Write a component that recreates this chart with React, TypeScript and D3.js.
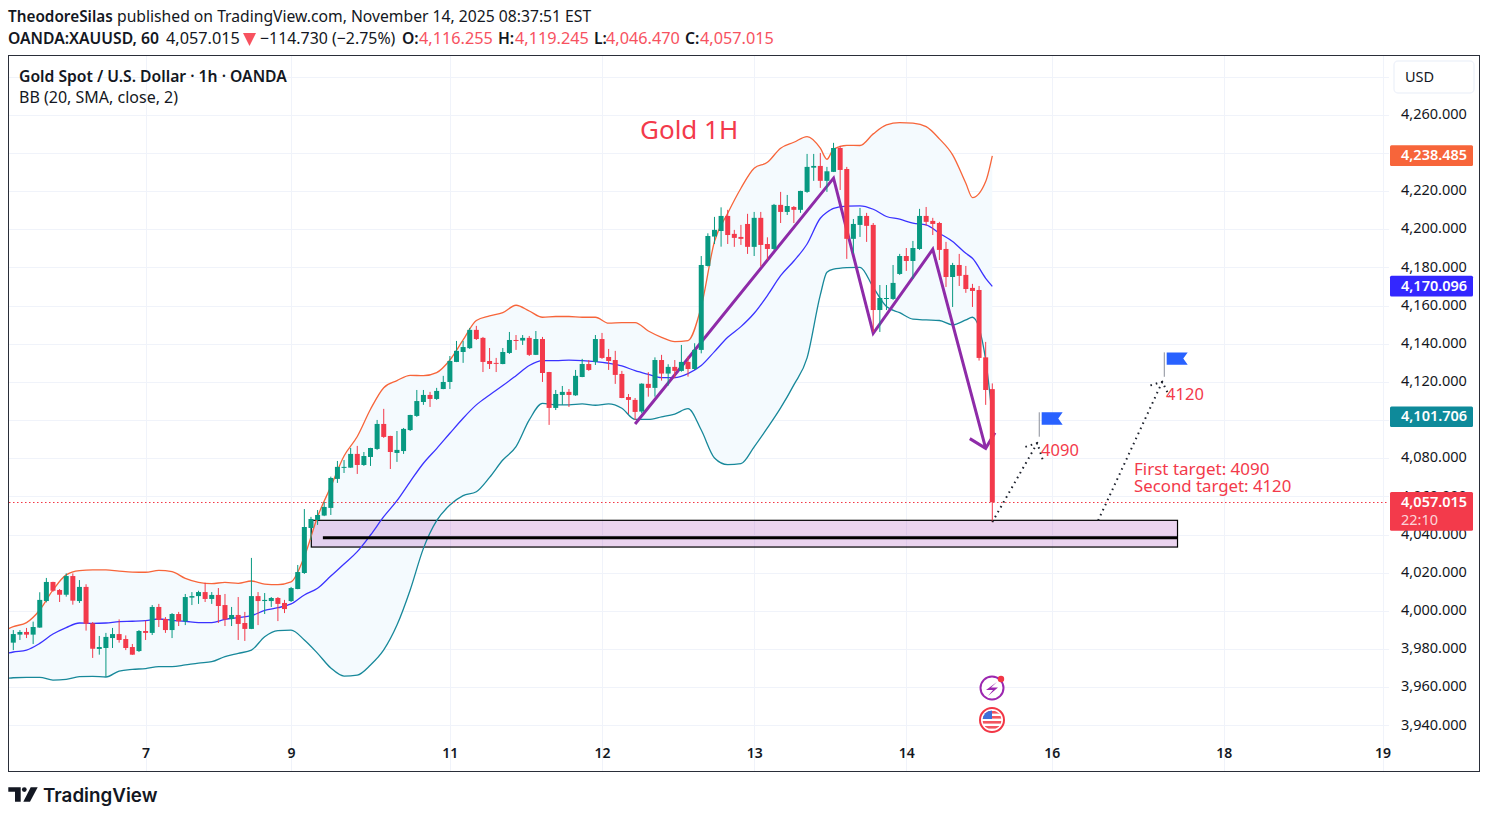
import * as d3 from "d3";
import { useRef, useEffect } from "react";

// one entry per hourly bar
const opens = [
  3983.4,3987.6,3989.0,3987.6,3991.3,4005.2,4015.2,4011.0,4008.5,4018.3,
  4005.2,4012.6,3993.5,3980.1,3980.6,3985.8,3987.9,3985.3,3981.1,3979.0,
  3989.5,3988.5,4002.1,3995.8,3990.0,3998.4,3994.6,4007.0,4007.8,4009.9,
  4006.3,4008.4,4003.1,3995.8,3997.9,3993.7,3990.6,4007.8,4005.2,4005.2,
  4006.8,4004.2,4005.2,4011.5,4019.9,4043.5,4047.7,4050.0,4054.0,4069.2,
  4075.1,4075.1,4082.3,4076.5,4080.7,4084.9,4098.0,4091.7,4082.8,4083.8,
  4094.8,4102.2,4109.5,4113.2,4111.1,4116.3,4120.0,4130.5,4135.7,4137.7,
  4147.3,4143.1,4131.0,4130.0,4129.4,4135.2,4142.0,4141.7,4143.1,4134.2,
  4142.5,4125.2,4106.4,4113.2,4114.8,4113.0,4122.6,4129.4,4130.5,4142.5,
  4133.1,4131.5,4124.2,4112.1,4110.6,4104.5,4119.0,4116.9,4131.5,4124.4,
  4127.9,4125.8,4130.5,4126.8,4136.8,4180.8,4196.2,4199.1,4207.0,4197.6,
  4196.0,4202.8,4190.8,4206.0,4192.3,4189.7,4212.8,4209.1,4211.7,4210.2,
  4219.6,4232.3,4233.2,4225.4,4230.1,4242.6,4231.6,4195.0,4202.3,4207.0,
  4202.3,4157.7,4163.5,4163.5,4176.6,4186.0,4183.4,4189.7,4207.0,4204.4,
  4203.3,4189.7,4175.0,4181.3,4176.1,4169.3,4168.2,4132.9,4116.255,
];
const highs = [
  3990.0,3990.0,3991.1,3994.4,4009.8,4017.3,4015.3,4011.5,4019.7,4019.7,
  4016.2,4014.0,3994.2,3986.9,3988.5,3991.1,3995.6,3987.2,3982.7,3990.0,
  3994.9,4003.1,4003.7,3996.8,3998.9,3999.5,4008.9,4009.9,4010.6,4014.8,
  4009.9,4012.0,4008.9,4002.1,4007.3,3999.5,4027.8,4009.9,4009.4,4007.3,
  4007.3,4005.8,4012.6,4024.1,4053.4,4049.3,4052.9,4057.1,4070.4,4078.6,
  4079.1,4085.4,4086.5,4083.3,4085.5,4100.1,4105.9,4091.8,4094.3,4095.9,
  4102.8,4115.8,4115.8,4114.8,4116.9,4123.2,4133.6,4141.5,4141.5,4148.3,
  4149.4,4143.6,4137.8,4132.6,4137.8,4146.2,4144.6,4144.6,4144.1,4146.7,
  4143.6,4125.3,4115.8,4117.9,4116.3,4126.3,4132.1,4131.5,4144.6,4145.7,
  4137.3,4136.3,4125.8,4113.7,4111.6,4119.3,4125.1,4132.9,4134.2,4129.3,
  4131.5,4139.4,4133.3,4140.3,4186.0,4197.9,4206.5,4211.5,4210.2,4199.7,
  4202.3,4208.1,4209.1,4209.1,4195.8,4213.3,4219.6,4218.0,4212.2,4220.2,
  4239.5,4239.5,4240.0,4232.7,4245.3,4243.7,4232.7,4205.4,4211.2,4208.6,
  4203.3,4170.8,4170.8,4181.3,4187.1,4190.2,4193.9,4210.7,4211.7,4206.0,
  4203.9,4193.4,4182.4,4187.1,4180.8,4171.4,4170.3,4141.0,4119.245,
];
const lows = [
  3979.5,3984.8,3985.8,3982.7,3991.2,4004.5,4010.1,4004.7,4007.5,4003.3,
  4004.2,3989.7,3975.4,3977.1,3965.6,3980.6,3983.4,3979.5,3977.0,3978.5,
  3984.8,3987.4,3991.6,3988.5,3985.8,3992.1,3992.6,4003.1,4003.7,4004.7,
  4003.7,3993.7,3992.1,3992.1,3984.8,3984.3,3990.5,3992.6,3998.4,4002.1,
  3994.7,3998.9,4004.7,4011.4,4019.4,4037.2,4045.1,4049.7,4050.3,4067.1,
  4072.3,4075.0,4071.8,4076.0,4076.0,4084.4,4090.7,4074.4,4078.1,4082.3,
  4094.3,4101.7,4108.0,4106.9,4110.6,4116.2,4116.3,4130.4,4130.0,4137.3,
  4142.0,4125.2,4126.8,4125.2,4129.3,4134.7,4136.8,4139.4,4133.6,4134.1,
  4120.0,4097.5,4105.3,4108.0,4106.9,4112.7,4122.5,4125.8,4128.9,4132.1,
  4126.3,4119.0,4111.5,4103.2,4100.1,4103.6,4112.3,4112.3,4120.7,4118.1,
  4121.9,4125.4,4122.8,4126.3,4135.0,4180.5,4192.3,4190.9,4192.3,4190.8,
  4191.8,4187.1,4186.0,4180.5,4183.9,4189.2,4203.3,4207.5,4203.3,4208.6,
  4219.1,4225.4,4221.7,4219.6,4230.0,4220.6,4184.5,4187.4,4196.0,4193.4,
  4146.2,4146.2,4157.7,4163.0,4176.1,4178.2,4174.0,4189.2,4201.8,4197.0,
  4183.9,4169.8,4159.3,4170.3,4166.7,4159.3,4131.2,4108.0,4046.47,
];
const closes = [
  3987.9,3989.0,3987.6,3991.6,4005.8,4015.2,4010.6,4008.5,4018.3,4005.4,
  4012.6,3993.3,3980.2,3981.1,3986.4,3987.9,3984.8,3980.6,3977.1,3989.5,
  3988.5,4002.1,3995.3,3990.0,3998.4,3994.6,4007.3,4007.8,4009.9,4006.3,
  4008.4,4002.6,3995.6,3997.9,3993.2,3990.6,4007.8,4005.2,4005.8,4006.8,
  4003.7,4001.0,4012.0,4020.4,4044.0,4048.2,4050.3,4054.5,4069.7,4075.5,
  4075.5,4082.3,4076.5,4081.2,4085.4,4098.0,4091.2,4083.3,4084.4,4095.4,
  4102.7,4110.0,4113.2,4111.1,4115.3,4120.0,4131.0,4136.3,4138.3,4147.3,
  4142.5,4130.5,4129.4,4129.6,4135.7,4142.0,4141.7,4143.1,4134.2,4142.5,
  4124.7,4106.4,4113.7,4114.8,4113.2,4123.2,4129.4,4126.3,4142.5,4132.6,
  4131.0,4123.7,4111.6,4110.6,4104.3,4119.1,4116.9,4131.5,4124.4,4127.9,
  4125.8,4130.5,4126.8,4136.8,4181.3,4196.5,4199.7,4207.0,4197.0,4195.5,
  4195.0,4190.8,4206.0,4191.8,4189.7,4212.8,4209.1,4212.2,4210.2,4220.1,
  4232.7,4233.2,4225.4,4230.4,4242.6,4231.1,4195.0,4202.8,4207.0,4201.8,
  4157.7,4164.0,4164.0,4171.9,4186.0,4183.4,4190.2,4207.0,4203.9,4202.8,
  4189.2,4175.0,4181.3,4175.6,4168.7,4167.7,4132.6,4115.8,4057.015,
];

// Bollinger bands, read at these bars
const bandBars = [
  -2,0,2,4,6,8,10,12,14,16,18,20,22,24,26,28,30,32,34,36,38,40,42,44,46,
  48,50,52,54,56,58,60,62,64,66,68,70,72,74,76,78,80,82,84,86,88,90,92,94,
  96,98,100,102,104,106,108,110,112,114,116,118,120,122,123,124,126,128,130,
  132,134,136,138,140,142,144,145,147,148,
];
const bbUpper = [
  3988.6,3991.8,3993.9,4000.5,4011.0,4018.9,4021.1,4021.5,4021.5,4020.9,4020.4,4020.3,4021.3,4020.6,4017.1,4015.0,4014.3,4015.0,4014.5,4015.7,4014.1,4013.8,4015.2,4028.5,4049.4,
  4065.2,4081.2,4091.4,4105.7,4117.0,4120.7,4123.5,4123.3,4124.9,4131.5,4142.0,4152.2,4154.6,4156.3,4160.2,4157.2,4153.9,4154.3,4154.3,4153.9,4153.9,4150.8,4151.1,4151.1,
  4146.7,4143.4,4141.1,4141.7,4159.5,4193.6,4208.4,4221.5,4232.0,4235.1,4242.5,4245.6,4248.6,4242.5,4236.7,4242.0,4244.0,4243.9,4250.0,
  4254.7,4255.9,4255.6,4253.8,4247.4,4239.0,4224.1,4216.6,4225.0,4238.485,
];
const bbBasis = [
  3976.9,3978.5,3979.5,3983.0,3987.9,3991.3,3993.7,3993.5,3993.7,3994.4,3994.6,3994.9,3995.8,3995.1,3994.6,3993.9,3993.9,3995.6,3996.5,3997.5,4000.3,4001.7,4003.7,4008.4,4011.9,
  4018.3,4024.6,4031.1,4039.8,4049.4,4057.8,4067.8,4077.4,4085.1,4093.1,4101.0,4108.0,4113.2,4118.1,4123.3,4128.6,4131.2,4131.2,4131.4,4131.2,4130.7,4129.8,4128.4,4125.9,
  4124.0,4122.3,4122.3,4124.4,4128.6,4135.9,4143.4,4149.0,4156.0,4165.3,4175.7,4183.4,4192.3,4205.8,4208.9,4211.0,4212.1,4212.3,4210.5,
  4206.7,4205.3,4203.2,4202.3,4197.9,4193.6,4187.4,4184.8,4174.3,4170.096,
];
const bbLower = [
  3964.2,3965.0,3965.2,3965.2,3963.8,3964.2,3965.6,3965.7,3965.4,3968.5,3969.4,3969.8,3970.8,3970.8,3971.7,3972.7,3973.4,3976.1,3977.8,3979.5,3986.5,3989.7,3990.0,3984.8,3977.8,
  3970.1,3965.9,3966.4,3971.7,3979.6,3992.6,4011.0,4032.8,4047.3,4055.5,4060.4,4062.5,4070.0,4079.1,4086.1,4100.1,4108.8,4108.0,4108.0,4108.5,4107.8,4108.5,4106.2,4100.4,
  4100.4,4101.7,4103.2,4106.0,4094.8,4080.2,4076.7,4077.2,4086.0,4095.9,4106.4,4118.5,4132.6,4165.6,4177.5,4179.1,4179.9,4180.1,4169.6,
  4159.5,4156.3,4152.9,4152.5,4152.2,4149.9,4152.5,4153.9,4131.5,4101.706,
];

// axis
const priceTicks = [3940,3960,3980,4000,4020,4040,4060,4080,4100,4120,4140,4160,4180,4200,4220,4240,4260,4280];
const priceLabels = [3940,3960,3980,4000,4020,4040,4060,4080,4120,4140,4160,4180,4200,4220,4260];
const dayLabels = ["7","9","11","12","13","14","16","18","19"];
const dayBars = [20,42,66,89,112,135,157,183,207];

// drawings on the chart, as [bar, price]
const zigzag: [number, number][] = [[94,4098.0],[124,4226.8],[130,4145.5],[139,4189.5],[147,4085.2]];
const zigzagHead: [number, number][] = [[144.6,4090.3],[147,4085.2],[148.4,4093.4]];
const dotted1: [number, number][] = [[148,4046.6],[154.8,4088.0]];
const dotted1Head: [number, number][] = [[153,4086.0],[154.8,4088.0],[155.6,4079.4]];
const dotted2: [number, number][] = [[164,4047.4],[173.7,4120.1]];
const dotted2Head: [number, number][] = [[171.9,4118.2],[173.7,4120.1],[174.8,4112.2]];
const zone = { barFrom: 45.05, barTo: 176, top: 4047.5, bottom: 4033.5, line: 4038.4, lineFrom: 46.8 };
const flags: { bar: number; price: number; label: string }[] = [
  { bar: 155.1, price: 4104.1, label: "4090" },
  { bar: 174, price: 4135.5, label: "4120" },
];

const lastPrice = 4057.015;
const upColor = "#089981";
const downColor = "#f33a4b";
const sans = "'Noto Sans', sans-serif";

function App() {
  const svgRef = useRef<SVGSVGElement | null>(null);

  useEffect(() => {
    const svg = d3.select(svgRef.current);
    svg.selectAll("*").remove();

    const x = d3.scaleLinear().domain([0, 148]).range([13.3, 992.3]);
    const y = d3.scaleLinear().domain([3960, 4080]).range([687.3, 458.3]);
    const paneR = 1389;

    svg.append("defs").append("clipPath").attr("id", "pane")
      .append("rect").attr("x", 9).attr("y", 56).attr("width", paneR - 9).attr("height", 715);

    // grid
    svg.append("g").attr("stroke", "#f0f3fa")
      .selectAll("line").data(priceTicks).join("line")
      .attr("x1", 9).attr("x2", paneR)
      .attr("y1", (d) => Math.round(y(d)) + 0.5).attr("y2", (d) => Math.round(y(d)) + 0.5);
    svg.append("g").attr("stroke", "#f0f3fa")
      .selectAll("line").data(dayBars).join("line")
      .attr("x1", (d) => Math.round(x(d)) + 0.5).attr("x2", (d) => Math.round(x(d)) + 0.5)
      .attr("y1", 56).attr("y2", 771);

    const pane = svg.append("g").attr("clip-path", "url(#pane)");
    const bandIdx = d3.range(bandBars.length);

    // band fill
    pane.append("path")
      .attr("fill", "#f4fafe")
      .attr("d", d3.area<number>()
        .curve(d3.curveMonotoneX)
        .x((i) => x(bandBars[i]))
        .y0((i) => y(bbLower[i]))
        .y1((i) => y(bbUpper[i]))(bandIdx));

    // support zone
    pane.append("rect")
      .attr("x", x(zone.barFrom)).attr("width", x(zone.barTo) - x(zone.barFrom))
      .attr("y", y(zone.top)).attr("height", y(zone.bottom) - y(zone.top))
      .attr("fill", "#9c27b0").attr("fill-opacity", 0.2)
      .attr("stroke", "#000").attr("stroke-width", 1.2);

    // band lines
    const bandLine = (values: number[]) =>
      d3.line<number>().curve(d3.curveMonotoneX).x((i) => x(bandBars[i])).y((i) => y(values[i]))(bandIdx);
    const bands: [number[], string][] = [[bbUpper, "#f7653a"], [bbBasis, "#3a32ff"], [bbLower, "#17889a"]];
    bands.forEach(([values, color]) => {
      pane.append("path").attr("fill", "none").attr("stroke", color).attr("stroke-width", 1.3)
        .attr("d", bandLine(values));
    });

    const pointLine = d3.line<[number, number]>().x((d) => x(d[0])).y((d) => y(d[1]));

    // zone centre line
    pane.append("path")
      .attr("d", pointLine([[zone.lineFrom, zone.line], [zone.barTo, zone.line]]))
      .attr("stroke", "#000").attr("stroke-width", 3).attr("fill", "none");

    // purple zigzag
    [zigzag, zigzagHead].forEach((pts) => {
      pane.append("path").attr("d", pointLine(pts)).attr("fill", "none")
        .attr("stroke", "#8e2ba8").attr("stroke-width", 3).attr("stroke-linejoin", "miter");
    });

    // last price line
    pane.append("line")
      .attr("x1", 9).attr("x2", paneR)
      .attr("y1", Math.floor(y(lastPrice)) + 0.5).attr("y2", Math.floor(y(lastPrice)) + 0.5)
      .attr("stroke", "#f23645").attr("stroke-dasharray", "1.5 2.5");

    // candles
    const candles = pane.append("g").selectAll("g").data(d3.range(opens.length)).join("g");
    candles.append("line")
      .attr("x1", (i) => x(i)).attr("x2", (i) => x(i))
      .attr("y1", (i) => y(highs[i])).attr("y2", (i) => y(lows[i]))
      .attr("stroke", (i) => (closes[i] >= opens[i] ? upColor : downColor)).attr("stroke-width", 1);
    candles.append("rect")
      .attr("x", (i) => x(i) - 2.5).attr("width", 5)
      .attr("y", (i) => y(Math.max(opens[i], closes[i])))
      .attr("height", (i) => Math.max(1, Math.abs(y(opens[i]) - y(closes[i]))))
      .attr("fill", (i) => (closes[i] >= opens[i] ? upColor : downColor));

    // dotted arrows
    [dotted1, dotted1Head, dotted2, dotted2Head].forEach((pts) => {
      pane.append("path").attr("d", pointLine(pts)).attr("fill", "none")
        .attr("stroke", "#1e222d").attr("stroke-width", 2).attr("stroke-dasharray", "1.6 4");
    });

    // flags
    flags.forEach((f) => {
      const fx = x(f.bar);
      const fy = y(f.price);
      svg.append("line").attr("x1", fx).attr("x2", fx).attr("y1", fy).attr("y2", fy + 24.4)
        .attr("stroke", "#8a8e99").attr("stroke-width", 1);
      svg.append("path")
        .attr("d", `M${fx + 2.4},${fy}H${fx + 23.4}L${fx + 19},${fy + 6.2}L${fx + 23.4},${fy + 12.4}H${fx + 2.4}Z`)
        .attr("fill", "#2962ff");
      svg.append("text").attr("x", fx + 1.8).attr("y", fy + (f.label === "4090" ? 43.5 : 47.5))
        .attr("font-family", sans).attr("font-size", 16.5).attr("fill", downColor).text(f.label);
    });

    // chart texts
    svg.append("text").attr("x", 640).attr("y", 139).attr("font-family", sans).attr("font-size", 26)
      .attr("fill", downColor).text("Gold 1H");
    svg.append("text").attr("x", 1134).attr("y", 474.5).attr("font-family", sans).attr("font-size", 17)
      .attr("fill", downColor).text("First target: 4090");
    svg.append("text").attr("x", 1134).attr("y", 491.5).attr("font-family", sans).attr("font-size", 16.8)
      .attr("fill", downColor).text("Second target: 4120");

    // price axis
    const priceAxis = svg.append("g").attr("transform", "translate(1401,-1)")
      .call(d3.axisRight(y).tickValues(priceLabels).tickFormat(d3.format(",.3f") as any).tickSize(0));
    priceAxis.select(".domain").remove();
    priceAxis.selectAll("text").attr("x", 0).attr("font-family", sans).attr("font-size", 14.5).attr("fill", "#131722");

    // time axis
    const timeAxis = svg.append("g").attr("transform", "translate(0,745.5)")
      .call(d3.axisBottom(x).tickValues(dayBars).tickFormat((_, i) => dayLabels[i]).tickSize(0));
    timeAxis.select(".domain").remove();
    timeAxis.selectAll("text").attr("font-family", sans).attr("font-size", 14).attr("font-weight", 600).attr("fill", "#131722");

    // price tags
    const tags: [number, string, string][] = [
      [4238.485, "#f7653a", "4,238.485"],
      [4170.096, "#3327ff", "4,170.096"],
      [4101.706, "#0e8a9a", "4,101.706"],
    ];
    tags.forEach(([p, color, label]) => {
      svg.append("rect").attr("x", 1390).attr("width", 83).attr("y", y(p) - 10.5).attr("height", 20.7).attr("rx", 1.5).attr("fill", color);
      svg.append("text").attr("x", 1401).attr("y", y(p) + 4.6).attr("font-family", sans).attr("font-size", 14.5)
        .attr("font-weight", 600).attr("fill", "#fff").text(label);
    });
    svg.append("rect").attr("x", 1390).attr("width", 83).attr("y", 492).attr("height", 38.7).attr("rx", 1.5).attr("fill", downColor);
    svg.append("text").attr("x", 1401).attr("y", 507).attr("font-family", sans).attr("font-size", 14.5)
      .attr("font-weight", 600).attr("fill", "#fff").text("4,057.015");
    svg.append("text").attr("x", 1401).attr("y", 524.5).attr("font-family", sans).attr("font-size", 14.5)
      .attr("fill", "#fff").attr("fill-opacity", 0.8).text("22:10");

    // USD button
    svg.append("rect").attr("x", 1394).attr("y", 61).attr("width", 80).attr("height", 32).attr("rx", 4)
      .attr("fill", "#fff").attr("stroke", "#f0f3fa").attr("stroke-width", 1.5);
    svg.append("text").attr("x", 1405).attr("y", 82).attr("font-family", sans).attr("font-size", 14.5)
      .attr("fill", "#131722").text("USD");

    // pane frame
    svg.append("rect").attr("x", 8.5).attr("y", 55.5).attr("width", 1471).attr("height", 716)
      .attr("fill", "none").attr("stroke", "#2a2e39");

    // pane legend
    svg.append("text").attr("x", 19).attr("y", 82).attr("font-family", sans).attr("font-size", 15.7).attr("font-weight", 600)
      .attr("fill", "#131722").text("Gold Spot / U.S. Dollar · 1h · OANDA");
    svg.append("text").attr("x", 19).attr("y", 103).attr("font-family", sans).attr("font-size", 16)
      .attr("fill", "#131722").text("BB (20, SMA, close, 2)");

    // header
    const head = (tx: number, ty: number, s: string, weight = 400, fill = "#131722", size = 15.7) =>
      svg.append("text").attr("x", tx).attr("y", ty).attr("font-family", sans).attr("font-size", size)
        .attr("font-weight", weight).attr("fill", fill).text(s);
    head(8, 22, "TheodoreSilas", 600, "#131722", 15.3);
    head(117, 22, "published on TradingView.com, November 14, 2025 08:37:51 EST");
    head(8, 44, "OANDA:XAUUSD, 60", 600);
    head(166, 44, "4,057.015", 400, "#131722", 16.3);
    svg.append("path").attr("d", "M243,33H256L249.5,46Z").attr("fill", "#f7525f");
    head(260, 44, "−114.730 (−2.75%)", 400, "#131722", 15.9);
    const ohlc: [number, string, number, string][] = [
      [402, "O:", 419, "4,116.255"],
      [498, "H:", 515, "4,119.245"],
      [594, "L:", 606, "4,046.470"],
      [685, "C:", 700, "4,057.015"],
    ];
    ohlc.forEach(([lx, l, vx, v]) => {
      head(lx, 44, l, 600);
      head(vx, 44, v, 400, "#f7525f", 16.3);
    });

    // event icons
    const iconX = x(148) - 0.3;
    svg.append("circle").attr("cx", iconX).attr("cy", 688).attr("r", 11.5)
      .attr("fill", "#fff").attr("stroke", "#9c27b0").attr("stroke-width", 2);
    svg.append("path").attr("d", `M${iconX + 5},${682}L${iconX - 6},${690}H${iconX + 1}L${iconX - 4},${696}L${iconX + 6},${687.5}H${iconX - 1}Z`)
      .attr("fill", "#9c27b0");
    svg.append("circle").attr("cx", iconX + 9).attr("cy", 679).attr("r", 3.2).attr("fill", "#f23645");
    svg.append("circle").attr("cx", iconX).attr("cy", 720).attr("r", 12)
      .attr("fill", "#fff").attr("stroke", "#f23645").attr("stroke-width", 2);
    const flagClip = svg.append("clipPath").attr("id", "usflag");
    flagClip.append("circle").attr("cx", iconX).attr("cy", 720).attr("r", 9.5);
    const flag = svg.append("g").attr("clip-path", "url(#usflag)");
    [711, 716, 721, 726].forEach((sy) => {
      flag.append("rect").attr("x", iconX - 10).attr("y", sy).attr("width", 20).attr("height", 2.6).attr("fill", "#f2555f");
    });
    flag.append("rect").attr("x", iconX - 10).attr("y", 710).attr("width", 10).attr("height", 9).attr("fill", "#3f6fd8");

    // TradingView logo
    const logo = svg.append("g").attr("fill", "#131722");
    logo.append("path").attr("d", "M8.3,787.3H20.7V801.7H15V791.7H8.3Z");
    logo.append("circle").attr("cx", 24.3).attr("cy", 789.6).attr("r", 2.4);
    logo.append("path").attr("d", "M30.7,787.3H37.7L30,801.7H23.3Z");
    svg.append("text").attr("x", 43).attr("y", 801.5).attr("font-family", "Inter, sans-serif").attr("font-size", 18.8)
      .attr("font-weight", 600).attr("fill", "#131722").text("TradingView");
  }, []);

  return (
    <svg
      ref={svgRef}
      width={1488}
      height={818}
      style={{ position: "absolute", left: 0, top: 0, display: "block", background: "#fff" }}
    />
  );
}

export default App;
